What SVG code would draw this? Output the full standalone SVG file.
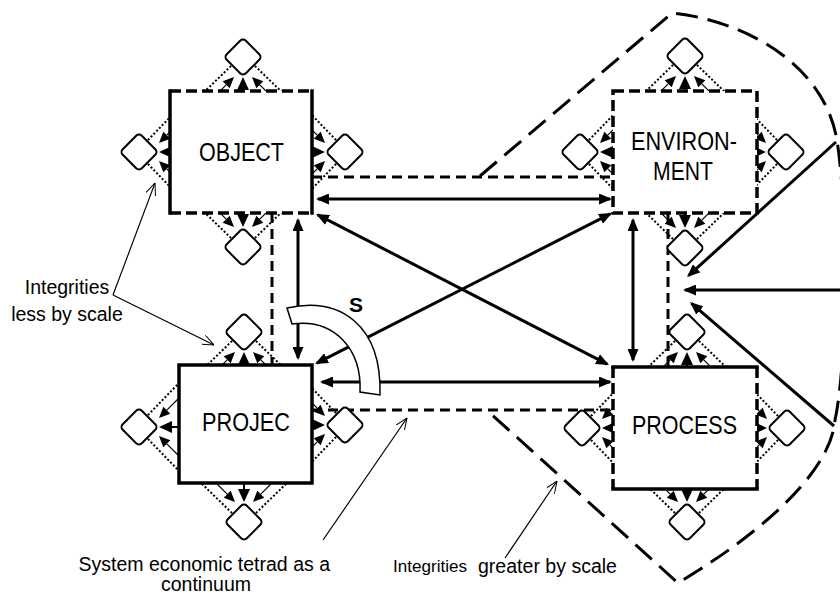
<svg xmlns="http://www.w3.org/2000/svg" xmlns:xlink="http://www.w3.org/1999/xlink" width="840" height="597" viewBox="0 0 840 597">
<style>
  text { font-family: "Liberation Sans", Arial, sans-serif; fill: #000; }
  .lbl { font-size: 26px; }
  .ann { font-size: 19.5px; }
  .conn { stroke: #000; stroke-width: 3; fill: none; }
  .dconn { stroke: #000; stroke-width: 3; fill: none; stroke-dasharray: 10 6; }
  .bound { stroke: #000; stroke-width: 3; fill: none; stroke-dasharray: 22 10; }
  .thinl { stroke: #000; stroke-width: 1.2; fill: none; }
  .box { fill: #fff; stroke: none; }
  .es { stroke: #000; stroke-width: 3.5; fill: none; stroke-linecap: square; }
  .ed { stroke: #000; stroke-width: 3.5; fill: none; stroke-dasharray: 11 5; }
  .dot { stroke: #000; stroke-width: 2; fill: none; stroke-dasharray: 2 2; }
  .dia { fill: #fff; stroke: #000; stroke-width: 2; }
</style>
<defs>
  <marker id="ah" viewBox="0 0 13 11" refX="11" refY="5.5" markerWidth="13" markerHeight="11" markerUnits="userSpaceOnUse" orient="auto-start-reverse">
    <path d="M0,0 L13,5.5 L0,11 Z" fill="#000"/>
  </marker>
  <marker id="oa" viewBox="0 0 12 10" refX="12" refY="5" markerWidth="12" markerHeight="10" markerUnits="userSpaceOnUse" orient="auto">
    <path d="M0,0 L12,5 L0,10" fill="none" stroke="#000" stroke-width="1"/>
  </marker>
  <clipPath id="clipG"><rect x="370" y="540" width="270" height="37"/></clipPath>
  <g id="dset">
    <path class="dot" d="M-45,41 L-12,9 M45,41 L12,9"/>
    <path class="thinl" d="M-30,41 L-16.8,27.8 M30,41 L16.8,27.8"/>
    <path d="M0,30 L0,44" stroke="#000" stroke-width="2"/>
    <polygon points="-9,20 -20.3,24.3 -13.3,31.3"/>
    <polygon points="9,20 20.3,24.3 13.3,31.3"/>
    <polygon points="0,20 -6,33 6,33"/>
    <rect class="dia" x="-13.5" y="-13.5" width="27" height="27" rx="4" transform="rotate(45)"/>
  </g>
</defs>
<rect width="840" height="597" fill="#fff"/>

<g id="connectors">
  <path class="bound" d="M480,176 L672,13 C740,20 820,60 836,135 C848,200 848,360 835,420 C832,465 775,525 678,583 L490,413"/>
  <path class="dconn" d="M312,177 L613,177"/>
  <path class="dconn" d="M312,410 L613,410"/>
  <path class="dconn" d="M272,213 L272,365"/>
  <path class="dconn" d="M668,213 L668,367"/>
  <path class="conn" d="M318,199 L610,199" marker-start="url(#ah)" marker-end="url(#ah)"/>
  <path class="conn" d="M322,382 L610,382" marker-start="url(#ah)" marker-end="url(#ah)"/>
  <path class="conn" d="M298,220 L298,358" marker-start="url(#ah)" marker-end="url(#ah)"/>
  <path class="conn" d="M633,220 L633,360" marker-start="url(#ah)" marker-end="url(#ah)"/>
  <path class="conn" d="M317.8,214.9 L607.2,364.1" marker-start="url(#ah)" marker-end="url(#ah)"/>
  <path class="conn" d="M316.8,363.1 L610.2,213.9" marker-start="url(#ah)" marker-end="url(#ah)"/>
  <path class="conn" d="M836,142 L688.5,275.7" marker-end="url(#ah)"/>
  <path class="conn" d="M840,290 L685,290" marker-end="url(#ah)"/>
  <path class="conn" d="M834,426 L691.5,303.3" marker-end="url(#ah)"/>
</g>

<g id="object">
  <use xlink:href="#dset" transform="translate(243,57)"/>
  <use xlink:href="#dset" transform="translate(345,152) rotate(90)"/>
  <use xlink:href="#dset" transform="translate(243,247) rotate(180)"/>
  <use xlink:href="#dset" transform="translate(139,152) rotate(-90)"/>
  <rect class="box" x="170" y="91" width="142" height="122"/>
  <path class="ed" d="M170,91 L312,91 M170,213 L312,213"/>
  <path class="es" d="M170,91 L170,213 M312,91 L312,213"/>
  <text class="lbl" x="199" y="161" textLength="85" lengthAdjust="spacingAndGlyphs">OBJECT</text>
</g>

<g id="environment">
  <use xlink:href="#dset" transform="translate(685,56)"/>
  <use xlink:href="#dset" transform="translate(786,152) rotate(90)"/>
  <use xlink:href="#dset" transform="translate(685,248) rotate(180)"/>
  <use xlink:href="#dset" transform="translate(580,152) rotate(-90)"/>
  <rect class="box" x="613" y="91" width="144" height="122"/>
  <rect class="ed" x="613" y="91" width="144" height="122"/>
  <text class="lbl" x="631" y="150" textLength="106" lengthAdjust="spacingAndGlyphs">ENVIRON-</text>
  <text class="lbl" x="653" y="180" textLength="60" lengthAdjust="spacingAndGlyphs">MENT</text>
</g>

<g id="projec">
  <use xlink:href="#dset" transform="translate(244,332)"/>
  <use xlink:href="#dset" transform="translate(345,425) rotate(90)"/>
  <use xlink:href="#dset" transform="translate(244,522) rotate(180)"/>
  <use xlink:href="#dset" transform="translate(139,427) rotate(-90)"/>
  <rect class="box" x="179" y="365" width="133" height="118"/>
  <rect class="es" x="179" y="365" width="133" height="118"/>
  <text class="lbl" x="202" y="431" textLength="88" lengthAdjust="spacingAndGlyphs">PROJEC</text>
</g>

<g id="process">
  <use xlink:href="#dset" transform="translate(687,332)"/>
  <use xlink:href="#dset" transform="translate(787,428) rotate(90)"/>
  <use xlink:href="#dset" transform="translate(687,522) rotate(180)"/>
  <use xlink:href="#dset" transform="translate(582,428) rotate(-90)"/>
  <rect class="box" x="613" y="367" width="144" height="122"/>
  <path class="ed" d="M613,367 L613,489 M757,367 L757,489"/>
  <path class="es" d="M613,367 L757,367 M613,489 L757,489"/>
  <text class="lbl" x="632" y="434" textLength="105" lengthAdjust="spacingAndGlyphs">PROCESS</text>
</g>

<g id="scale-arc">
  <path d="M287,308 C340,296 382,325 380,395 L360,392 C362,350 335,318 292,324 Z" fill="#fff" stroke="#000" stroke-width="1.5"/>
  <text x="356" y="312" font-size="21" font-weight="bold" text-anchor="middle">S</text>
</g>

<g id="annotations">
  <path class="thinl" d="M113,295 L155,183" stroke-width="1" marker-end="url(#oa)"/>
  <path class="thinl" d="M113,295 L214,345" stroke-width="1" marker-end="url(#oa)"/>
  <path class="thinl" d="M323,540 L407,418" stroke-width="1" marker-end="url(#oa)"/>
  <path class="thinl" d="M505,558 L557,481" stroke-width="1" marker-end="url(#oa)"/>
  <text class="ann" x="67" y="294" text-anchor="middle">Integrities</text>
  <text class="ann" x="67" y="321" text-anchor="middle">less by scale</text>
  <text class="ann" x="330" y="571" text-anchor="end">System economic tetrad as a</text>
  <text class="ann" x="206" y="591" text-anchor="middle">continuum</text>
  <g clip-path="url(#clipG)">
    <text x="393" y="572" font-size="17" textLength="74" lengthAdjust="spacingAndGlyphs">Integrities</text>
    <text class="ann" x="478" y="573" textLength="139" lengthAdjust="spacingAndGlyphs">greater by scale</text>
  </g>
</g>
</svg>
